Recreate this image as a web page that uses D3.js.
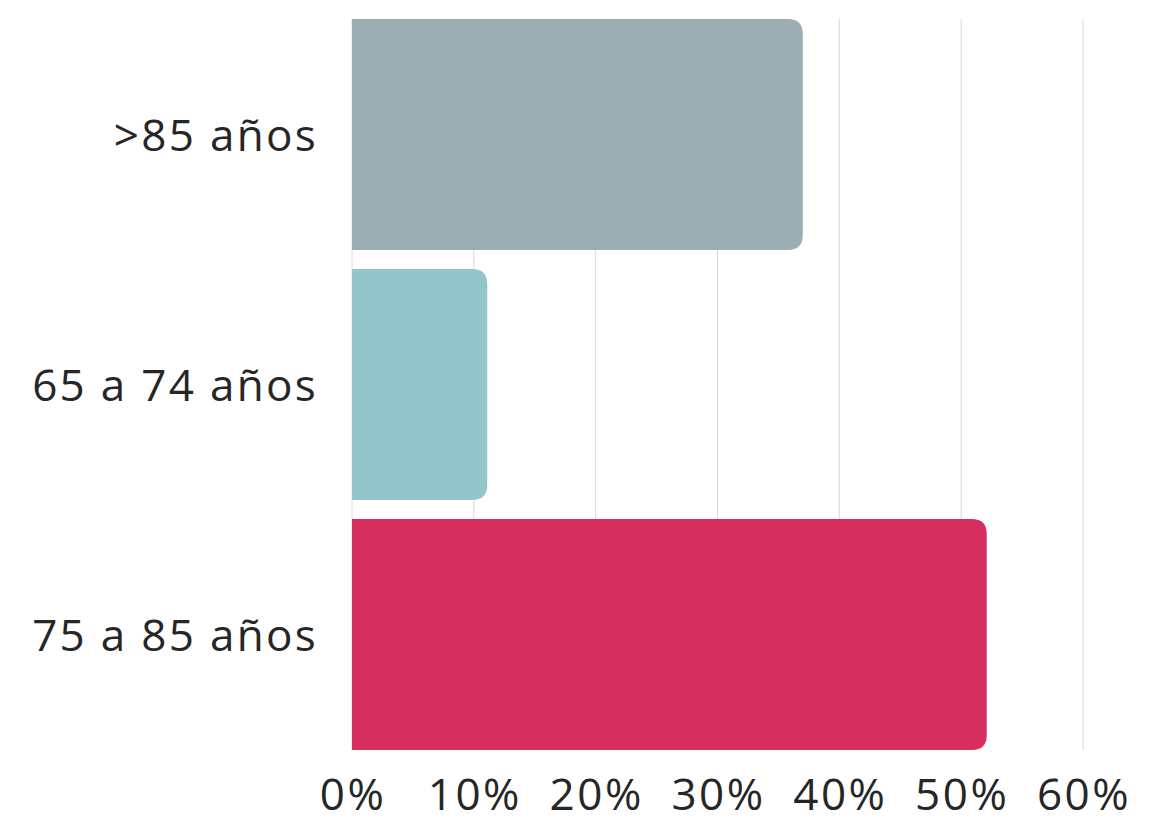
<!DOCTYPE html>
<html>
<head>
<meta charset="utf-8">
<script src="https://cdn.jsdelivr.net/npm/d3@7"></script>
<style>
  body { margin: 0; background: #fff; }
  text { font-family: "Open Sans", sans-serif; fill: #262626; }
</style>
</head>
<body>
<svg id="chart"></svg>
<script>
const width = 1152;
const height = 822;

const categories = [">85 años", "65 a 74 años", "75 a 85 años"];
const values = [0.37, 0.111, 0.521];
const colors = ["#9caeb2", "#93c6ca", "#d62e5f"];
const ticks = [0, 0.1, 0.2, 0.3, 0.4, 0.5, 0.6];

const svg = d3.select("#chart").attr("width", width).attr("height", height);

let x = d3.scaleLinear().domain([0, 0.6]).range([352, 1083]);
let y = d3.scaleBand().domain(categories).range([9.5, 759.5]).paddingInner(0.076).paddingOuter(0.038);

// gridlines
svg.selectAll(".grid").data(ticks).enter().append("line")
    .attr("x1", d => x(d)).attr("x2", d => x(d))
    .attr("y1", y(categories[0])).attr("y2", y(categories[2]) + y.bandwidth())
    .attr("stroke", "#d9d9d9").attr("stroke-width", 1);

// bars with rounded right corners
const r = 15;
function barPath(d, i) {
    let x0 = x(0), x1 = x(d), y0 = y(categories[i]), y1 = y0 + y.bandwidth();
    let rr = Math.min(r, (x1 - x0));
    return `M${x0},${y0}H${x1 - rr}Q${x1},${y0} ${x1},${y0 + rr}V${y1 - rr}Q${x1},${y1} ${x1 - rr},${y1}H${x0}Z`;
}
svg.selectAll(".bar").data(values).enter().append("path")
    .attr("class", "bar")
    .attr("d", barPath)
    .attr("fill", (d, i) => colors[i]);

// x axis labels
svg.selectAll(".xlab").data(ticks).enter().append("text")
    .attr("x", d => x(d) + 1).attr("y", 810)
    .attr("text-anchor", "middle")
    .style("font-size", "44px")
    .style("letter-spacing", "2.5px")
    .text(d => d3.format(".0%")(d));

// category labels
svg.selectAll(".ylab").data(categories).enter().append("text")
    .attr("x", 318).attr("y", d => y(d) + y.bandwidth() / 2 + 16)
    .attr("text-anchor", "end")
    .style("font-size", "44px")
    .style("letter-spacing", "2.3px")
    .text(d => d);
</script>
</body>
</html>
